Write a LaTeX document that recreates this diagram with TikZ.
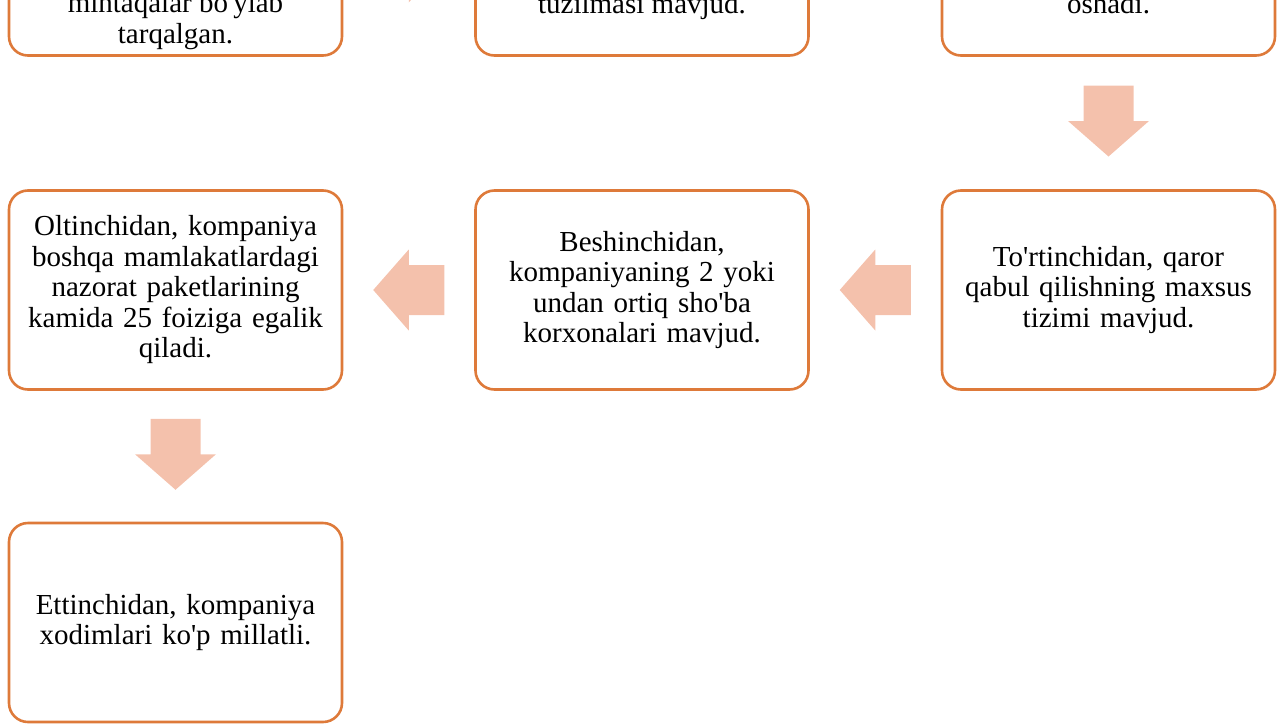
\documentclass[tikz,border=0pt]{standalone}
\usepackage{fontspec}
\setmainfont{Liberation Serif}[Ligatures=TeXOff]
\usetikzlibrary{
	shapes,
	calc}

\definecolor{boxedge}{HTML}{DE7A3A}
\definecolor{arrowfill}{HTML}{F4C1AC}

\tikzset{
	pics/bigarrow/.style={code={
		\fill[arrowfill] (-35.5,-25) -- (0,-25) -- (0,-40.5) -- (35.5,0)
			-- (0,40.5) -- (0,25) -- (-35.5,25) -- cycle;
	}}
}

\begin{document}
\begin{tikzpicture}[x=1pt,y=-1pt,every text node part/.style={align=center}]
		\tikzstyle{block}=[draw=boxedge, line width=2.6pt, rounded corners=19pt,
							minimum width=333pt, minimum height=199pt, text width=320pt,
							inner sep=0pt, font=\fontsize{29}{30.5}\selectfont]
		\tikzstyle{line}=[font=\fontsize{29}{30.5}\selectfont, anchor=base, inner sep=0pt]

		\useasboundingbox (0,0) rectangle (1282,723);
		\clip (0,0) rectangle (1282,723);

		% first row, only its lower part
		\foreach \name/\x in {b1/175.5, b2/642, b3/1108.5}
			\node[block] (\name) at (\x,-44) {};
		\foreach \name/\x/\y/\txt in {l1/175.5/12.5/mintaqalar bo'ylab, l2/175.5/43/tarqalgan.,
				l3/642/13/tuzilmasi mavjud., l4/1108.5/13/oshadi.}
			\node[line] (\name) at (\x,\y) {\txt};

		% second row
		\node[block] (b4) at (1108.5,290) {To'rtinchidan, qaror\\qabul qilishning maxsus\\tizimi mavjud.};
		\node[block] (b5) at (642,290) {Beshinchidan,\\kompaniyaning 2 yoki\\undan ortiq sho'ba\\korxonalari mavjud.};
		\node[block] (b6) at (175.5,290) {Oltinchidan, kompaniya\\boshqa mamlakatlardagi\\nazorat paketlarining\\kamida 25 foiziga egalik\\qiladi.};

		% third row
		\node[block] (b7) at (175.5,622.5) {Ettinchidan, kompaniya\\xodimlari ko'p millatli.};

		% arrows
		\pic (a12) at ($(b1)!0.5!(b2)+(0,6)$) {bigarrow};
		\pic[rotate=-90] (a34) at ($(b3)!0.5!(b4)-(0,2)$) {bigarrow};
		\foreach \from/\to in {b4/b5, b5/b6}
			\pic[rotate=180] (a\from) at ($(\from)!0.5!(\to)$) {bigarrow};
		\pic[rotate=-90] (a67) at ($(b6)!0.5!(b7)-(0,2)$) {bigarrow};

	\end{tikzpicture}
\end{document}
